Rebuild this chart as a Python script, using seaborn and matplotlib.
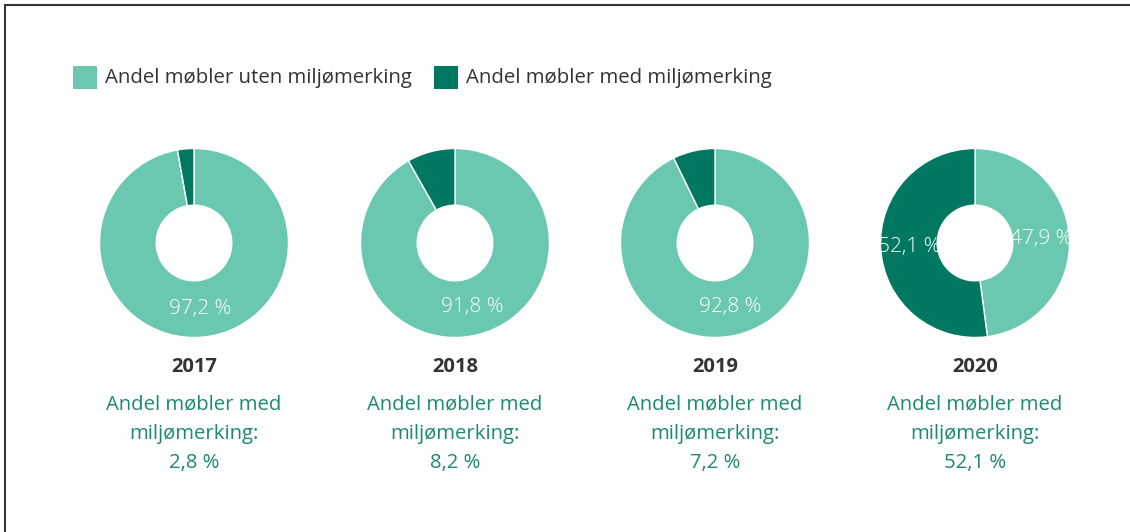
import matplotlib
matplotlib.use("Agg")
import matplotlib.pyplot as plt
import seaborn as sns
import numpy as np
from matplotlib.patches import Rectangle
from matplotlib.lines import Line2D

years = ["2017", "2018", "2019", "2020"]
uten = [97.2, 91.8, 92.8, 47.9]
med = [2.8, 8.2, 7.2, 52.1]
series_names = ["Andel møbler uten miljømerking", "Andel møbler med miljømerking"]
caption_lines = ["Andel møbler med", "miljømerking:"]

sns.set_theme(style="white")
plt.rcParams["font.family"] = ["Open Sans", "DejaVu Sans"]

colors = ["#6AC8B0", "#007761"]
text_green = "#1B8A6F"

W, H = 1130, 532
fig = plt.figure(figsize=(W / 100, H / 100), dpi=100)
fig.patch.set_facecolor("white")

def fx(px):
    return px / W

def fy(py):
    return 1 - py / H

def fmt(v):
    return f"{v:.1f}".replace(".", ",") + " %"

centers_x = [194, 455, 715, 975]
cy = 243
R = 94.5

for i, yr in enumerate(years):
    ax = fig.add_axes([fx(centers_x[i] - R), fy(cy + R), 2 * R / W, 2 * R / H])
    vals = [uten[i], med[i]]
    ax.pie(vals, colors=colors, startangle=90, counterclock=False, radius=1.0,
           wedgeprops=dict(width=0.6, edgecolor="white", linewidth=1))
    start = 90.0
    for v in vals:
        ang = start - v / 100 * 360 / 2
        start -= v / 100 * 360
        if v > 10:
            r = 0.7
            ax.text(r * np.cos(np.radians(ang)), r * np.sin(np.radians(ang)), fmt(v),
                    ha="center", va="center", color="white", fontsize=15,
                    fontweight="light")
    ax.set_xlim(-1, 1)
    ax.set_ylim(-1, 1)
    ax.set_aspect("equal")
    ax.axis("off")

    cxf = fx(centers_x[i])
    fig.text(cxf, fy(367), yr, ha="center", va="center", fontsize=14.5,
             fontweight="bold", color="#333333")
    fig.text(cxf, fy(405), caption_lines[0], ha="center", va="center",
             fontsize=14.6, color=text_green)
    fig.text(cxf, fy(434), caption_lines[1], ha="center", va="center",
             fontsize=14.6, color=text_green)
    fig.text(cxf, fy(463), fmt(med[i]), ha="center", va="center",
             fontsize=14.6, color=text_green)

# legend
leg_items = [(73, series_names[0], colors[0]), (434, series_names[1], colors[1])]
for x0, name, c in leg_items:
    fig.patches.append(Rectangle((fx(x0), fy(89)), 24 / W, 23 / H,
                                 transform=fig.transFigure, facecolor=c,
                                 edgecolor="none"))
    fig.text(fx(x0 + 32), fy(78), name, ha="left", va="center",
             fontsize=14.7, color="#333333")

# frame lines
fig.lines.append(Line2D([fx(5), 1], [fy(5), fy(5)], transform=fig.transFigure,
                        color="#333333", linewidth=1.5))
fig.lines.append(Line2D([fx(5), fx(5)], [fy(5), 0], transform=fig.transFigure,
                        color="#333333", linewidth=1.5))

fig.savefig("out.png", dpi=100, facecolor="white")
